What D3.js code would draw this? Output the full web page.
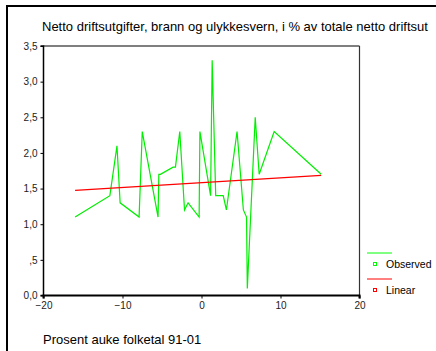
<!DOCTYPE html>
<html><head><meta charset="utf-8">
<script src="https://cdn.jsdelivr.net/npm/d3@7"></script>
<style>
html,body{margin:0;padding:0;background:#fff;}
svg{display:block;font-family:"Liberation Sans",Arial,sans-serif;}
</style></head><body>
<svg id="c" width="436" height="351"></svg>
<script>
const titleText = "Netto driftsutgifter, brann og ulykkesvern, i % av totale netto driftsut";
const xLabelText = "Prosent auke folketal 91-01";
const obsX = [-16.0,-11.6,-10.7,-10.3,-7.9,-7.5,-5.5,-5.4,-5.2,-3.6,-3.3,-2.75,-2.15,-1.7,-0.3,-0.2,1.15,1.35,1.8,2.75,3.15,4.5,5.3,5.7,5.8,6.8,7.3,9.2,15.15];
const obsY = [1.1,1.4,2.1,1.3,1.1,2.3,1.1,1.7,1.7,1.8,1.8,2.3,1.2,1.3,1.1,2.3,1.4,3.3,1.4,1.4,1.2,2.3,1.2,1.1,0.1,2.5,1.7,2.3,1.7];
const linX = [-16.0, 15.15];
const linY = [1.476, 1.686];
const xTicks = [-20,-10,0,10,20];
const yTicks = [0,0.5,1,1.5,2,2.5,3,3.5];
const yTickLabels = ["0,0",",5","1,0","1,5","2,0","2,5","3,0","3,5"];
const legendLabels = ["Observed","Linear"];
const legendColors = ["#00ff00","#ff0000"];

const svg = d3.select("#c");
const L=43.5, R=359.5, T=46, B=295.5;
const x = d3.scaleLinear().domain([-20,20]).range([L,R]);
const y = d3.scaleLinear().domain([0,3.5]).range([B,T]);

// outer frame
svg.append("line").attr("x1",6).attr("x2",436).attr("y1",6).attr("y2",6).attr("stroke","#000").attr("stroke-width",2);
svg.append("line").attr("x1",7).attr("x2",7).attr("y1",5).attr("y2",351).attr("stroke","#000").attr("stroke-width",2);

// title
svg.append("text").attr("x",42).attr("y",31).attr("font-size",13).attr("fill","#000").text(titleText);

// plot box top/right
svg.append("line").attr("x1",L).attr("x2",R).attr("y1",T).attr("y2",T).attr("stroke","#555").attr("stroke-width",1.5);
svg.append("line").attr("x1",R).attr("x2",R).attr("y1",T).attr("y2",B).attr("stroke","#333").attr("stroke-width",1.2);

// axes
const yAxis = d3.axisLeft(y).tickValues(yTicks).tickFormat((d,i)=>yTickLabels[i]).tickSize(3).tickPadding(3);
const gy = svg.append("g").attr("transform",`translate(${L},0)`).call(yAxis);
gy.select(".domain").attr("stroke","#000").attr("stroke-width",1.5).attr("d",`M-3,${T}H0V${B}H-3`);
gy.selectAll("text").attr("font-size",10).attr("font-family","Liberation Sans, Arial, sans-serif").attr("fill","#222");
gy.selectAll("line").attr("stroke","#000");

const xAxis = d3.axisBottom(x).tickValues(xTicks).tickSize(3).tickPadding(3);
const gx = svg.append("g").attr("transform",`translate(0,${B})`).call(xAxis);
gx.select(".domain").attr("stroke","#000").attr("stroke-width",2).attr("d",`M${L},3V0H${R}V3`);
gx.selectAll("text").attr("font-size",10).attr("font-family","Liberation Sans, Arial, sans-serif").attr("fill","#222");
gx.selectAll("line").attr("stroke","#000");

// observed line
const obs = obsX.map((v,i)=>[v,obsY[i]]);
svg.append("path").datum(obs).attr("fill","none").attr("stroke","#00ee00").attr("stroke-width",1.2)
  .attr("d", d3.line().x(d=>x(d[0])).y(d=>y(d[1])));
// linear
const lin = linX.map((v,i)=>[v,linY[i]]);
svg.append("path").datum(lin).attr("fill","none").attr("stroke","#ff0000").attr("stroke-width",1.2)
  .attr("d", d3.line().x(d=>x(d[0])).y(d=>y(d[1])));

// x label
svg.append("text").attr("x",43).attr("y",344).attr("font-size",13).attr("fill","#000").text(xLabelText);

// legend
const lg = svg.append("g");
legendLabels.forEach((lab,i)=>{
  const y0 = 253 + i*26;
  lg.append("line").attr("x1",367).attr("x2",392).attr("y1",y0).attr("y2",y0).attr("stroke",legendColors[i]).attr("stroke-width",1);
  lg.append("rect").attr("x",373.5).attr("y",y0+9.5).attr("width",3).attr("height",3).attr("fill","none").attr("stroke",legendColors[i]).attr("stroke-width",1);
  lg.append("text").attr("x",386).attr("y",y0+15).attr("font-size",10.5).attr("fill","#000").text(lab);
});
</script>
</body></html>
